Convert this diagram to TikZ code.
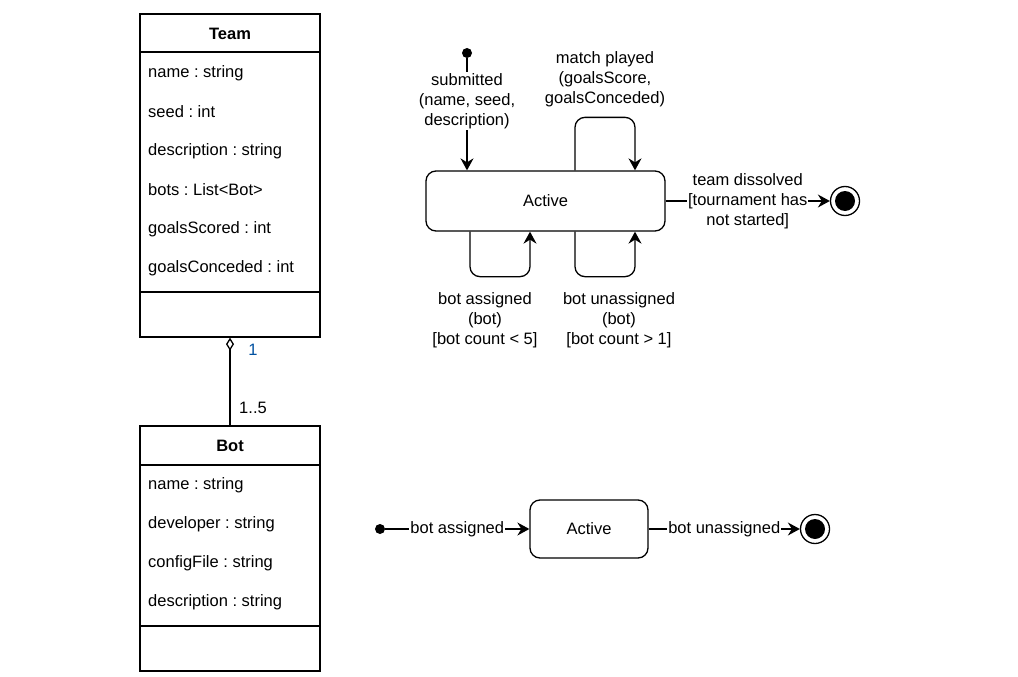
\documentclass[tikz,border=0pt]{standalone}
\usepackage{fontspec}
\setmainfont{Liberation Sans}
\usepackage{xcolor}
\usetikzlibrary{arrows.meta}
\definecolor{multblue}{RGB}{0,80,160}
\frenchspacing

\begin{document}
\begin{tikzpicture}[x=1pt,y=-1pt,
            txt/.style={font=\fontsize{16.5}{20}\selectfont, inner sep=0pt, align=center},
            attr/.style={txt, anchor=west},
            box/.style={draw, line width=1.3pt, inner sep=0pt},
            state/.style={box, rounded corners=10pt, font=\fontsize{16.5}{20}\selectfont},
            start/.style={shape=circle, fill, inner sep=0pt, minimum size=10pt},
            stop/.style={shape=circle, draw, line width=1.3pt, inner sep=0pt, minimum size=29pt,
                path picture={\fill (path picture bounding box.center) circle (10pt);}},
            trans/.style={line width=1.3pt, -{Stealth[length=12pt,width=13pt,inset=4pt]}},
            lbl/.style={txt, fill=white, inner sep=1pt}]
        \useasboundingbox (0,0) rectangle (1018,677);

        \node[box, minimum width=180pt, minimum height=323pt] (team) at (230,175.5) {};
        \draw[line width=1.3pt] (140,52) -- (320,52);
        \draw[line width=1.3pt] (140,292) -- (320,292);
        \node[txt] (teamname) at (230,34) {\textbf{Team}};
        \node[attr] (tname) at (148,73) {name : string};
        \node[attr] (tseed) at (148,112) {seed : int};
        \node[attr] (tdesc) at (148,151) {description : string};
        \node[attr] (tbots) at (148,190) {bots : List<Bot>};
        \node[attr] (tscored) at (148,229) {goalsScored : int};
        \node[attr] (tconc) at (148,268) {goalsConceded : int};

        \node[box, minimum width=180pt, minimum height=245pt] (bot) at (230,548.5) {};
        \draw[line width=1.3pt] (140,465) -- (320,465);
        \draw[line width=1.3pt] (140,626) -- (320,626);
        \node[txt] (botname) at (230,446) {\textbf{Bot}};
        \node[attr] (bname) at (148,485) {name : string};
        \node[attr] (bdev) at (148,524) {developer : string};
        \node[attr] (bconf) at (148,563) {configFile : string};
        \node[attr] (bdesc) at (148,602) {description : string};

        \draw[line width=1.3pt, -{Diamond[open,length=13pt,width=8pt]}] (bot.north) -- (team.south);
        \node[txt, text=multblue] (multone) at (253,350) {1};
        \node[txt] (multmany) at (253,408) {1..5};

        \node[state, minimum width=239pt, minimum height=60pt] (active) at (545.5,201) {Active};
        \node[start] (init) at (467,53) {};
        \node[stop] (final) at (845,201) {};
        \draw[trans] (init) -- node[lbl, pos=0.38]{submitted\\(name, seed,\\description)} (init |- active.north);
        \draw[trans, rounded corners=10pt] ([xshift=29.5]active.north) -- ++(0,-53) -- ++(60,0) -- ([xshift=89.5]active.north);
        \node[txt] (played) at (605,79) {match played\\(goalsScore,\\goalsConceded)};
        \draw[trans, rounded corners=10pt] ([xshift=-75.5]active.south) -- ++(0,45) -- ++(60,0) -- ([xshift=-15.5]active.south);
        \draw[trans, rounded corners=10pt] ([xshift=29.5]active.south) -- ++(0,45) -- ++(60,0) -- ([xshift=89.5]active.south);
        \node[txt] (assigned) at (485,320) {bot assigned\\(bot)\\{[bot count < 5]}};
        \node[txt] (unassigned) at (619,320) {bot unassigned\\(bot)\\{[bot count > 1]}};
        \draw[trans] (active) -- node[lbl]{team dissolved\\{[tournament has}\\not started]} (final);

        \node[state, minimum width=118pt, minimum height=58pt] (botactive) at (589,529) {Active};
        \node[start] (botinit) at (380,529) {};
        \node[stop] (botfinal) at (815,529) {};
        \draw[trans] (botinit) -- node[lbl]{bot assigned} (botactive);
        \draw[trans] (botactive) -- node[lbl]{bot unassigned} (botfinal);
\end{tikzpicture}
\end{document}
